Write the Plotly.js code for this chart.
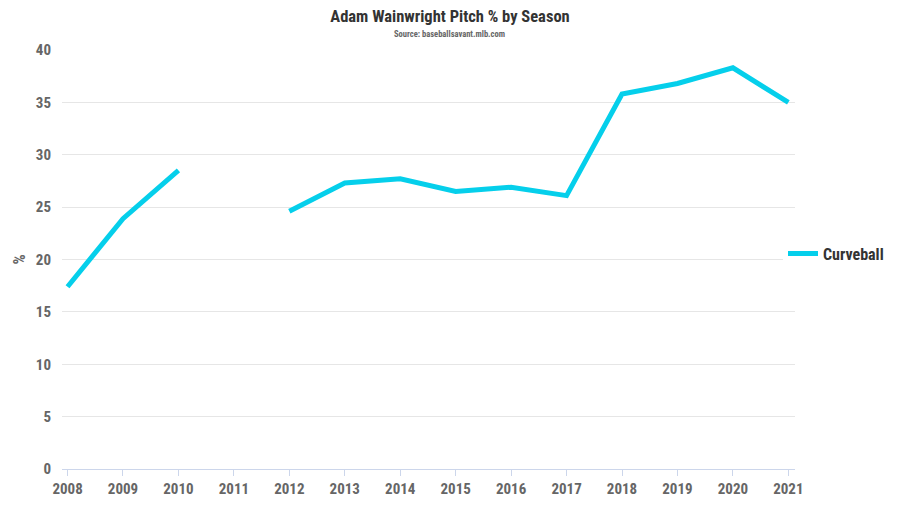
<!DOCTYPE html>
<html>
<head>
<meta charset="utf-8">
<script src="https://cdn.plot.ly/plotly-3.0.1.min.js"></script>
<style>
  body { margin: 0; background: #fff; }
  #chart { width: 900px; height: 506px; }
</style>
</head>
<body>
<div id="chart"></div>
<script>
// seasons and curveball usage (%), 2011 missing
let seasons = [2008, 2009, 2010, 2011, 2012, 2013, 2014, 2015, 2016, 2017, 2018, 2019, 2020, 2021];
let curveball = [17.4, 23.9, 28.5, null, 24.6, 27.3, 27.7, 26.5, 26.9, 26.1, 35.8, 36.8, 38.3, 35.0];
let yTicks = [0, 5, 10, 15, 20, 25, 30, 35, 40];

const font = "Roboto Condensed, Liberation Sans Narrow, DejaVu Sans Condensed, Roboto, sans-serif";

const data = [{
    x: seasons,
    y: curveball,
    mode: "lines",
    name: "Curveball",
    line: {color: "#05cfeb", width: 5},
    connectgaps: false
}];

const layout = {
    width: 900,
    height: 506,
    margin: {l: 62, r: 105, t: 50, b: 37, autoexpand: false},
    paper_bgcolor: "#fff",
    plot_bgcolor: "#fff",
    font: {family: font, color: "#666"},
    title: {
        text: "<b>Adam Wainwright Pitch % by Season</b>",
        font: {family: font, size: 16.5, color: "#333"},
        x: 0.5, xanchor: "center",
        y: 0.968, yanchor: "middle"
    },
    annotations: [{
        text: "<b>Source: baseballsavant.mlb.com</b>",
        xref: "paper", yref: "paper",
        x: 0.529, y: 1.0, xanchor: "center", yanchor: "bottom",
        yshift: 9,
        showarrow: false,
        font: {family: font, size: 8.5, color: "#666"}
    }],
    xaxis: {
        range: [2007.9, 2021.12],
        tickvals: seasons,
        ticktext: seasons.map(String),
        showgrid: false,
        zeroline: false,
        showline: true,
        linecolor: "#ccd6eb",
        linewidth: 1,
        ticks: "outside",
        ticklen: 6,
        tickcolor: "#ccd6eb",
        tickfont: {family: font, size: 15, color: "#666", weight: "bold"}
    },
    yaxis: {
        range: [0, 40],
        tickvals: yTicks,
        showgrid: true,
        gridcolor: "#e6e6e6",
        zeroline: false,
        showline: false,
        ticks: "",
        ticklabelstandoff: 10,
        tickfont: {family: font, size: 15, color: "#666", weight: "bold"},
        title: {
            text: "<b>%</b>",
            standoff: 6,
            font: {family: font, size: 16, color: "#666"}
        }
    },
    showlegend: true,
    legend: {
        xref: "container",
        x: 0.87, xanchor: "left",
        y: 0.514, yanchor: "middle",
        itemwidth: 30,
        font: {family: font, size: 16, color: "#333", weight: "bold"}
    }
};

Plotly.newPlot("chart", data, layout, {displayModeBar: false, displaylogo: false});
</script>
</body>
</html>
